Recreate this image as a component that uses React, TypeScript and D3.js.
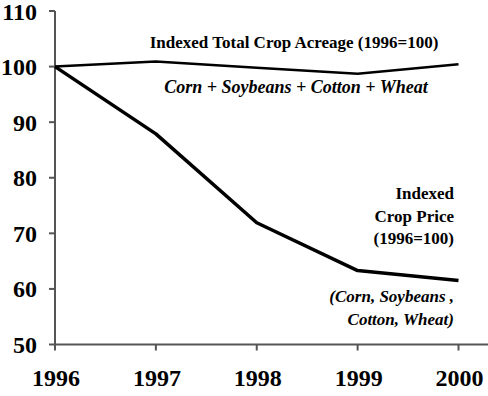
import React from 'react';
import * as d3 from 'd3';

const years = [1996, 1997, 1998, 1999, 2000];
const acreage = [100, 100.9, 99.8, 98.7, 100.4];
const price = [100, 87.9, 71.9, 63.3, 61.5];
const yTicks = [50, 60, 70, 80, 90, 100, 110];

const W = 488;
const H = 396;
const fam = "'Liberation Serif', 'Times New Roman', Times, Tinos, FreeSerif, serif";
const serif = { fontFamily: fam };

const App = () => {
  // scales tuned to the reference frame
  const x = d3.scaleLinear().domain([1996, 2000]).range([55, 458.5]);
  const y = d3.scaleLinear().domain([50, 110]).range([344.5, 11]);

  const line = d3
    .line<number>()
    .x((d, i) => x(years[i]))
    .y(d => y(d));

  return (
    <svg width={W} height={H} style={{ position: 'absolute', left: 0, top: 0, background: '#fff' }}>
      <style>{`text { font-family: ${fam} !important; font-weight: bold; }`}</style>
      {/* axes */}
      <line x1={55} x2={55} y1={y(110)} y2={y(50)} stroke="#555" strokeWidth={2} />
      <line x1={55} x2={W} y1={y(50)} y2={y(50)} stroke="#555" strokeWidth={2} />
      {yTicks.map(t => (
        <g key={t}>
          <line x1={49} x2={55} y1={y(t)} y2={y(t)} stroke="#555" strokeWidth={2} />
          <text x={37} y={y(t) + 8.5} textAnchor="end" fontSize={24} fontFamily={fam} style={serif}>
            {t}
          </text>
        </g>
      ))}
      {years.map(yr => (
        <g key={yr}>
          <line x1={x(yr)} x2={x(yr)} y1={y(50)} y2={y(50) + 6} stroke="#555" strokeWidth={2} />
          <text x={x(yr) + 1} y={386} textAnchor="middle" fontSize={24} fontFamily={fam} style={serif}>
            {yr}
          </text>
        </g>
      ))}

      {/* series */}
      <path d={line(acreage) ?? ''} fill="none" stroke="#000" strokeWidth={2.5} />
      <path d={line(price) ?? ''} fill="none" stroke="#000" strokeWidth={3.5} strokeLinejoin="round" />

      {/* annotations */}
      <g fontSize={17} fontFamily={fam}>
        <text x={294} y={47.5} textAnchor="middle" style={serif}>
          Indexed Total Crop Acreage (1996=100)
        </text>
        <text x={296} y={92.5} textAnchor="middle" fontSize={18} fontStyle="italic" style={serif}>
          Corn + Soybeans + Cotton + Wheat
        </text>
        <text x={454} y={199} textAnchor="end" style={serif}>Indexed</text>
        <text x={454} y={222} textAnchor="end" style={serif}>Crop Price</text>
        <text x={454} y={244} textAnchor="end" style={serif}>(1996=100)</text>
        <text x={454} y={302} textAnchor="end" fontStyle="italic" style={serif}>(Corn, Soybeans ,</text>
        <text x={454} y={325} textAnchor="end" fontStyle="italic" style={serif}>Cotton, Wheat)</text>
      </g>
    </svg>
  );
};

export default App;
